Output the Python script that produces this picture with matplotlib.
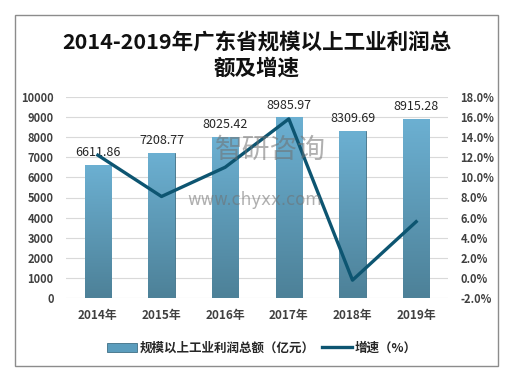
import matplotlib
matplotlib.use("Agg")
import matplotlib.pyplot as plt
import numpy as np
from matplotlib.patches import Rectangle
from matplotlib.lines import Line2D
from matplotlib.colors import LinearSegmentedColormap

plt.rcParams['font.family'] = ['Noto Sans CJK SC', 'DejaVu Sans']

years = ["2014年", "2015年", "2016年", "2017年", "2018年", "2019年"]
profit = [6611.86, 7208.77, 8025.42, 8985.97, 8309.69, 8915.28]
growth = [12.2, 8.1, 11.0, 15.8, -0.2, 5.6]
title = "2014-2019年广东省规模以上工业利润总\n额及增速"
bar_label = "规模以上工业利润总额（亿元）"
line_label = "增速（%）"

fig = plt.figure(figsize=(5.1, 3.78), dpi=100)
fig.patch.set_facecolor("white")
# outer border
fig.add_artist(Rectangle((15/510, 1-366/378), (498-15)/510, (366-15)/378,
                         transform=fig.transFigure, fill=False, edgecolor="#8c8c8c", lw=1.0))

ax = fig.add_axes([66/510, 1-298.3/378, (448-66)/510, (298.3-96.7)/378])
x = np.arange(len(years))
bars = ax.bar(x, profit, width=0.41, color="#5b9dbd", edgecolor="#3f6f85", lw=0.6, zorder=2)
cmap = LinearSegmentedColormap.from_list("g", ["#4d8198", "#6cb0d2"])
grad = np.linspace(0, 1, 100).reshape(-1, 1)
for b in bars:
    im = ax.imshow(grad, cmap=cmap, origin="lower", aspect="auto",
                   extent=[b.get_x(), b.get_x()+b.get_width(), 0, b.get_height()], zorder=2)
    im.set_clip_path(b)
for xi, v in zip(x, profit):
    ax.annotate(f"{v:.2f}", (xi, v), xytext=(0, 4), textcoords="offset points",
                ha="center", va="bottom", fontsize=9, color="#262626", zorder=5)

ax.set_xlim(-0.5, len(years)-0.5)
ax.set_ylim(0, 10000)
ax.set_yticks(np.arange(0, 10001, 1000))
ax.set_xticks(x)
ax.set_xticklabels(years, fontsize=8.5, fontweight="bold", color="#404040")
ax.tick_params(axis="y", labelsize=8, colors="#404040", length=0, pad=9)
ax.tick_params(axis="x", length=0, pad=8)
for lab in ax.get_yticklabels():
    lab.set_fontweight("bold")
ax.grid(axis="y", color="#d9d9d9", lw=0.8, zorder=0)
ax.set_axisbelow(True)
for s in ax.spines.values():
    s.set_visible(False)

ax2 = ax.twinx()
ax2.plot(x, growth, color="#0d5571", lw=2.4, zorder=4)
ax2.set_ylim(-2, 18)
ax2.set_yticks(np.arange(-2, 18.1, 2))
ax2.set_yticklabels([f"{v:.1f}%" for v in np.arange(-2, 18.1, 2)])
ax2.tick_params(axis="y", labelsize=8, colors="#404040", length=0, pad=9)
for lab in ax2.get_yticklabels():
    lab.set_fontweight("bold")
for s in ax2.spines.values():
    s.set_visible(False)

# watermark
fig.text(270/510, 1-150/378, "智研咨询", fontsize=20, color="#707070", alpha=0.55,
         ha="center", va="center", zorder=10)
fig.text(255/510, 1-200/378, "www.chyxx.com", fontsize=12, color="#707070", alpha=0.55,
         ha="center", va="center", family="DejaVu Sans", zorder=10)

fig.text(257/510, 1-55/378, title, fontsize=15.5, fontweight="bold", ha="center", va="center",
         linespacing=1.3, color="#111111")

handles = [Rectangle((0, 0), 1, 1, facecolor="#5b9dbd", edgecolor="#3f6f85", lw=0.6),
           Line2D([0], [0], color="#0d5571", lw=2.4)]
fig.legend(handles, [bar_label, line_label], loc="center", bbox_to_anchor=(262/510, 1-348/378),
           ncol=2, frameon=False, prop={"size": 9, "weight": "bold"}, handlelength=2.4,
           handletextpad=0.2, columnspacing=0.6, labelcolor="#262626")

fig.savefig("out.png", dpi=100)
